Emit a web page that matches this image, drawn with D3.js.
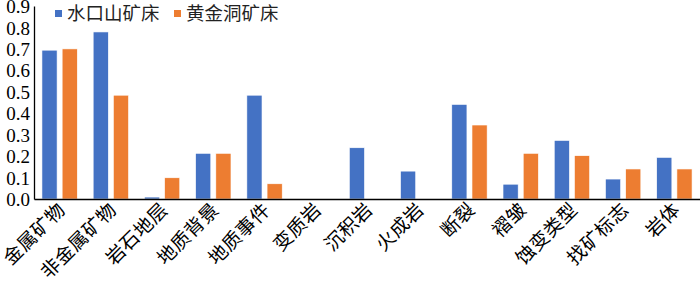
<!DOCTYPE html>
<html>
<head>
<meta charset="utf-8">
<script src="https://cdn.jsdelivr.net/npm/d3@7"></script>
<style>
  body { margin: 0; background: #fff; }
</style>
</head>
<body>
<div id="chart"></div>
<script>
// data
const categories = ['金属矿物', '非金属矿物', '岩石地层', '地质背景', '地质事件', '变质岩', '沉积岩',
    '火成岩', '断裂', '褶皱', '蚀变类型', '找矿标志', '岩体'];
const seriesNames = ['水口山矿床', '黄金洞矿床'];
const shuikoushan = [0.694, 0.779, 0.009, 0.213, 0.484, 0, 0.239, 0.130, 0.441, 0.069, 0.273, 0.093, 0.194];
const huangjindong = [0.700, 0.484, 0.099, 0.213, 0.071, 0, 0, 0, 0.345, 0.213, 0.202, 0.140, 0.140];
const yTicks = [0, 0.1, 0.2, 0.3, 0.4, 0.5, 0.6, 0.7, 0.8, 0.9];
const colors = ['#4472C4', '#ED7D31'];

const W = 700, H = 284;
const margin = { top: 6, right: 0, bottom: 85, left: 34 };
const innerW = W - margin.left - margin.right;
const innerH = H - margin.top - margin.bottom;

const svg = d3.select('#chart').append('svg')
    .attr('width', W)
    .attr('height', H);

const g = svg.append('g')
    .attr('transform', 'translate(' + margin.left + ',' + margin.top + ')');

const x = d3.scaleBand().domain(categories).range([0, innerW]).paddingInner(0.31).paddingOuter(0.155);
const x1 = d3.scaleBand().domain(seriesNames).range([0, x.bandwidth()]).paddingInner(0.25);
const y = d3.scaleLinear().domain([0, 0.9]).range([innerH, 0]);

const rows = categories.map((c, i) => ({ cat: c, vals: [shuikoushan[i], huangjindong[i]] }));

// bars
const groups = g.selectAll('.cat').data(rows).join('g')
    .attr('class', 'cat')
    .attr('transform', d => 'translate(' + x(d.cat) + ',0)');

groups.selectAll('rect')
    .data(d => d.vals.map((v, k) => ({ name: seriesNames[k], v: v, k: k })).filter(d => d.v > 0))
    .join('rect')
    .attr('x', d => x1(d.name))
    .attr('width', x1.bandwidth())
    .attr('y', d => y(d.v))
    .attr('height', d => innerH - y(d.v))
    .attr('fill', d => colors[d.k])
    .attr('stroke', '#fff')
    .attr('stroke-width', 0.6);

// y axis
const yAxis = g.append('g')
    .call(d3.axisLeft(y).tickValues(yTicks).tickFormat(d3.format('.1f')).tickSize(0).tickPadding(4))
    .attr('font-family', 'Liberation Serif, DejaVu Serif, serif')
    .attr('font-size', 19);
yAxis.select('.domain').attr('stroke', '#000').attr('stroke-width', 1.3);
yAxis.selectAll('text')
    .attr('dy', '0.35em')
    .attr('fill', '#000');

// x axis
const xAxis = g.append('g')
    .attr('transform', 'translate(0,' + innerH + ')')
    .call(d3.axisBottom(x).tickSize(0).tickSizeOuter(0))
    .attr('font-family', 'Noto Sans CJK SC, sans-serif')
    .attr('font-size', 19);
xAxis.select('.domain').attr('stroke', '#000').attr('stroke-width', 1.6);
xAxis.selectAll('text')
    .attr('text-anchor', 'end')
    .attr('dy', '0')
    .attr('x', 0)
    .attr('y', 14)
    .attr('transform', 'translate(-3,2) rotate(-45)')
    .style('letter-spacing', '0.5px')
    .attr('fill', '#000');

// legend
const legend = svg.append('g').attr('transform', 'translate(55,0)');
const legendOffsets = [0, 119];
seriesNames.forEach((name, i) => {
    const lg = legend.append('g').attr('transform', 'translate(' + legendOffsets[i] + ',0)');
    lg.append('rect').attr('x', 0).attr('y', 10).attr('width', 7).attr('height', 7).attr('fill', colors[i]);
    lg.append('text')
        .attr('x', 12).attr('y', 20)
        .attr('font-family', 'Noto Sans CJK SC, sans-serif')
        .attr('font-size', 18.5)
        .attr('fill', '#222')
        .text(name);
});
</script>
</body>
</html>
